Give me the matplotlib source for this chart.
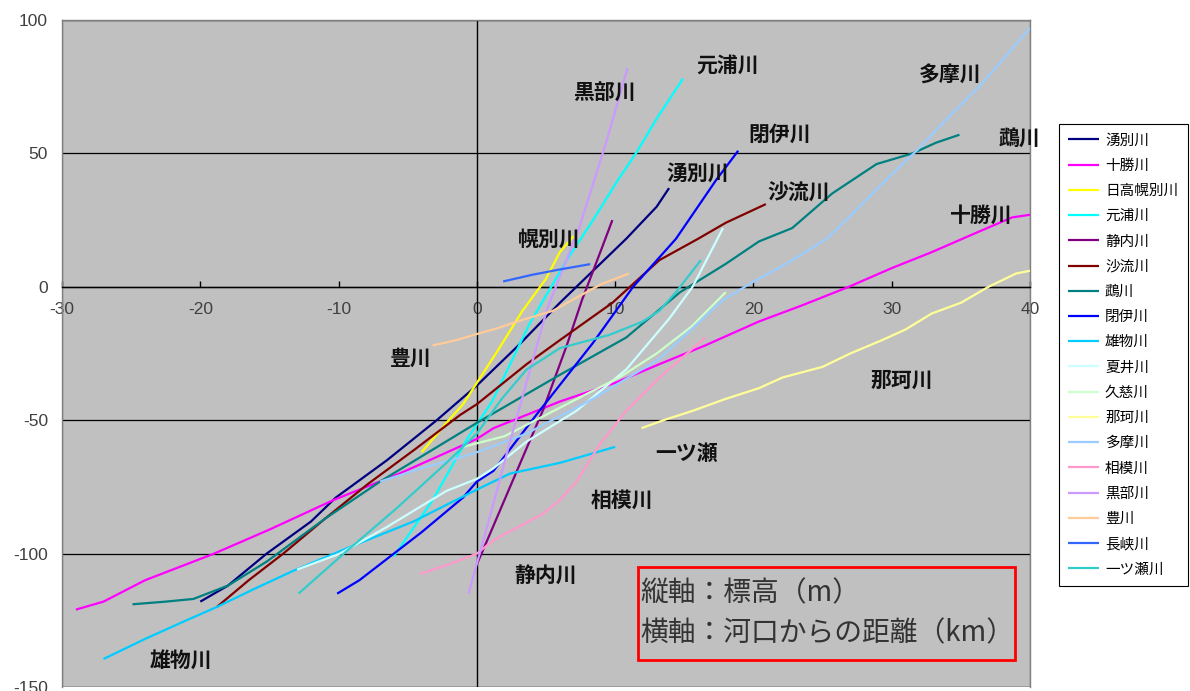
import matplotlib
matplotlib.use("Agg")
import matplotlib.pyplot as plt
from matplotlib.patches import Rectangle

plt.rcParams['font.family'] = ['Noto Sans CJK JP', 'DejaVu Sans']

# ---- river profiles: distance from river mouth (km) vs. elevation (m) ----
yubetsu_km = [-20, -18, -15.2, -12, -10.2, -6.5, -2.9, 0, 3, 6, 7.2, 8.4, 10.8, 13, 13.9]
yubetsu_m = [-118, -112, -100, -88, -79, -65, -50, -37, -22, -6, 0, 6, 18, 30, 37]

tokachi_km = [-29, -27, -24, -19, -15, -10.4, -5.6, -3, 0, 1.2, 6, 10, 13.2, 16.5, 20.4,
              23.5, 26.9, 30, 32.9, 36, 38.7, 40]
tokachi_m = [-121, -118, -110, -100, -91, -80, -70, -64, -57, -53, -43, -36, -29, -22, -13,
             -7, 0, 7, 13, 20, 26, 27]

horobetsu_km = [-4, -3, -2.2, -1, 0, 1.5, 3.3, 5, 6, 7]
horobetsu_m = [-62, -56, -51, -44, -36, -24, -9, 3, 13, 19]

motoura_km = [-6, -3.2, -0.7, 1.1, 3.8, 6.5, 8.4, 10.2, 11.5, 13, 14.9]
motoura_m = [-101, -80, -57, -43, -14, 10, 25, 40, 50, 63, 78]

shizunai_km = [0, 1, 2.4, 4.8, 6.5, 7.6, 9, 9.8]
shizunai_m = [-104, -92, -75, -46, -22, -5, 14, 25]

saru_km = [-18.8, -16.5, -14, -11, -7.9, -4.5, -1.2, 0, 3.6, 6, 9.8, 13.2, 16, 18, 20.9]
saru_m = [-120, -110, -100, -87, -74, -61, -48, -44, -29, -20, -6, 10, 18, 24, 31]

mukawa_km = [-24.9, -22.5, -20.5, -18, -15.2, -11, -7, -3.5, 0, 3, 6, 10.8, 14.7, 18, 20.4,
             22.8, 25.7, 28.9, 31.5, 33.2, 34.9]
mukawa_m = [-119, -118, -117, -112, -103, -87, -73, -62, -51, -42, -33, -19, -2, 8.6, 17,
            22, 35, 46, 50, 54, 57]

hei_km = [-10.1, -8.5, -6.5, -4, -1, 0, 1.2, 4.3, 8.4, 11.3, 14.4, 17.3, 18.9]
hei_m = [-115, -110, -102, -92, -79, -73, -69, -48, -21, 0, 18, 40, 51]

omono_km = [-27, -24, -21, -18.8, -16, -13.3, -9.4, -4.6, 0, 2.4, 6, 10]
omono_m = [-139.5, -132, -125, -120, -113, -106.5, -98, -88, -76, -70, -66, -60]

natsui_km = [-13, -9.9, -6.5, -2.2, 0, 1.2, 3.6, 7.2, 10.8, 13.9, 15.6, 17.8]
natsui_m = [-106, -100, -90, -76.5, -72, -68, -58, -46.5, -31, -12, 0, 22]

kuji_km = [-1, 2, 5, 8, 10.3, 13, 15.5, 18]
kuji_m = [-60, -56, -48, -40, -34, -25, -15, -2]

naka_km = [11.9, 13.5, 15.6, 18, 20.4, 22.1, 25, 27, 29.3, 31, 32.9, 35, 37, 39, 40]
naka_m = [-53, -50, -46.5, -42, -38, -34, -30, -25, -20, -16, -10, -6, 0, 5, 6]

tama_km = [-7, -4, -1.2, 0, 3.6, 8.4, 13.2, 17.8, 19.7, 22.5, 25.3, 26.9, 29.3, 31.8, 34,
           36.5, 40]
tama_m = [-73, -68, -64, -62, -55, -42, -27, -5, 1, 9, 18, 26, 38.6, 51, 63, 76, 97]

sagami_km = [-4.1, -2, 0, 1.2, 3, 4.8, 6, 7.2, 8.9, 10.8, 13.2, 15.2, 16.5]
sagami_m = [-107.6, -104, -100, -95, -90, -85, -80, -73, -59, -46.5, -34, -25, -19]

kurobe_km = [-0.6, 1, 2.4, 3.8, 5.1, 7.4, 9.4, 10.9]
kurobe_m = [-115, -85, -58, -32, -8, 22, 55, 82]

toyo_km = [-3.2, -1.5, 0, 1.5, 3.1, 5.5, 7.4, 9, 11]
toyo_m = [-22, -20, -17.7, -15.5, -12.7, -9, -3.5, 1, 5]

nagao_km = [1.9, 4, 6, 8.2]
nagao_m = [2, 4.5, 6.5, 8.5]

hitotsuse_km = [-12.9, -9.4, -5.8, -2.2, 0, 1.8, 3.6, 6, 9.6, 12, 13.2, 14.4, 15.9, 16.2]
hitotsuse_m = [-115, -99, -83, -66, -55, -42, -31, -23, -18, -13, -9, -2, 8, 10]

river_names = ['湧別川', '十勝川', '日高幌別川', '元浦川', '静内川', '沙流川', '鵡川', '閉伊川',
               '雄物川', '夏井川', '久慈川', '那珂川', '多摩川', '相模川', '黒部川', '豊川',
               '長峡川', '一ツ瀬川']
river_km = [yubetsu_km, tokachi_km, horobetsu_km, motoura_km, shizunai_km, saru_km, mukawa_km,
            hei_km, omono_km, natsui_km, kuji_km, naka_km, tama_km, sagami_km, kurobe_km,
            toyo_km, nagao_km, hitotsuse_km]
river_m = [yubetsu_m, tokachi_m, horobetsu_m, motoura_m, shizunai_m, saru_m, mukawa_m,
           hei_m, omono_m, natsui_m, kuji_m, naka_m, tama_m, sagami_m, kurobe_m,
           toyo_m, nagao_m, hitotsuse_m]
river_colors = ['#000080', '#FF00FF', '#FFFF00', '#00FFFF', '#800080', '#800000', '#008080',
                '#0000FF', '#00CCFF', '#CCFFFF', '#CCFFCC', '#FFFF99', '#99CCFF', '#FF99CC',
                '#CC99FF', '#FFCC99', '#3366FF', '#33CCCC']

# labels written inside the plot area
tag_texts = ['元浦川', '黒部川', '多摩川', '閉伊川', '鵡川', '湧別川', '沙流川', '十勝川', '幌別川',
             '豊川', '那珂川', '一ツ瀬', '相模川', '静内川', '雄物川']
tag_x = [18.1, 9.2, 34.2, 21.9, 39.2, 16.0, 23.3, 36.5, 5.2, -4.8, 30.7, 15.2, 10.5, 5.0, -21.4]
tag_y = [83, 72.7, 79.5, 57, 55.5, 42.7, 35, 27, 18, -26.6, -35, -62.6, -80, -108, -140]

x_ticks = [-30, -20, -10, 0, 10, 20, 30, 40]
y_ticks = [-150, -100, -50, 0, 50, 100]

fig = plt.figure(figsize=(11.90, 6.91), dpi=100)
ax = fig.add_axes([62 / 1190, 4 / 691, 968 / 1190, 667 / 691])
ax.set_facecolor('#C0C0C0')
ax.set_xlim(-30, 40)
ax.set_ylim(-150, 100)

for name, xs, ys, c in zip(river_names, river_km, river_m, river_colors):
    ax.plot(xs, ys, color=c, lw=1.6, label=name, zorder=3, solid_capstyle='butt')

# horizontal gridlines and the vertical axis through x = 0
ax.set_yticks(y_ticks)
ax.yaxis.grid(True, color='black', lw=0.9, zorder=1)
ax.set_axisbelow(True)
ax.axvline(0, color='black', lw=1.0, zorder=2)

# x axis runs along elevation 0
ax.spines['bottom'].set_position(('data', 0))
ax.spines['bottom'].set_color('black')
ax.spines['bottom'].set_linewidth(1.0)
for s in ('left', 'right', 'top'):
    ax.spines[s].set_color('#808080')
    ax.spines[s].set_linewidth(1.0)
ax.add_patch(Rectangle((0, 0), 1, 1, transform=ax.transAxes, fill=False,
                       edgecolor='#808080', lw=1.0, zorder=0.5))

ax.set_xticks(x_ticks)
ax.set_xticklabels([str(v) for v in x_ticks])
ax.set_yticklabels([str(v) for v in y_ticks])
ax.tick_params(axis='x', direction='in', length=4, width=1, color='black', pad=11,
               labelsize=12.5, labelcolor='#404040')
ax.tick_params(axis='y', length=0, pad=10, labelsize=12.5, labelcolor='#404040')
for lab in ax.get_xticklabels() + ax.get_yticklabels():
    lab.set_fontfamily(['Liberation Sans', 'DejaVu Sans'])

for t, x, y in zip(tag_texts, tag_x, tag_y):
    ax.text(x, y, t, ha='center', va='center', fontsize=15, fontweight='bold',
            color='#111111', zorder=5)

# note box describing the axes
ax.add_patch(Rectangle((0.595, 0.0405), 0.3895, 0.1395, transform=ax.transAxes,
                       fill=False, edgecolor='#FF0000', lw=2.0, zorder=6))
ax.text(0.597, 0.141, '縦軸：標高（m）', transform=ax.transAxes, ha='left', va='center',
        fontsize=20, color='#333333', zorder=6)
ax.text(0.597, 0.081, '横軸：河口からの距離（km）', transform=ax.transAxes, ha='left',
        va='center', fontsize=20, color='#333333', zorder=6)

leg = fig.legend(loc='upper left', bbox_to_anchor=(1059 / 1190, 1 - 124 / 691),
                 fontsize=10.5, frameon=True, fancybox=False, shadow=False,
                 edgecolor='black', framealpha=1, handlelength=2.1, handletextpad=0.4,
                 labelspacing=0.77, borderpad=0.65, borderaxespad=0)
leg.get_frame().set_linewidth(0.8)

fig.savefig('out.png', dpi=100)
